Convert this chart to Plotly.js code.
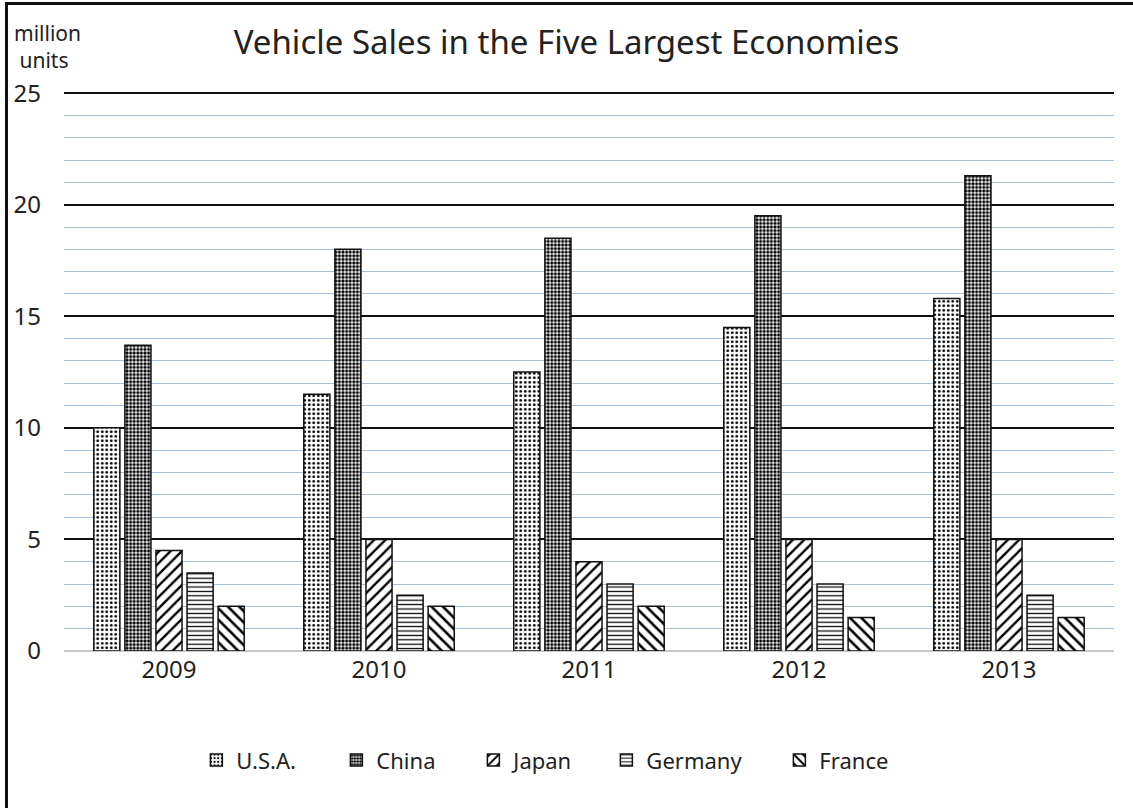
<!DOCTYPE html>
<html>
<head>
<meta charset="utf-8">
<script src="https://cdn.plot.ly/plotly-3.0.1.min.js"></script>
<style>
  html, body { margin: 0; padding: 0; background: #fff; }
  #wrap { position: relative; width: 1133px; height: 808px; overflow: hidden; }
  #chart { width: 1133px; height: 808px; }
  #frame { position: absolute; left: 5px; top: 2px; width: 1200px; height: 900px;
           border-left: 3px solid #111; border-top: 3px solid #111; pointer-events: none; }
</style>
</head>
<body>
<div id="wrap">
  <div id="chart"></div>
  <div id="frame"></div>
</div>
<script>
const years = ['2009', '2010', '2011', '2012', '2013'];
const usa     = [10, 11.5, 12.5, 14.5, 15.8];
const china   = [13.7, 18, 18.5, 19.5, 21.3];
const japan   = [4.5, 5, 4, 5, 5];
const germany = [3.5, 2.5, 3, 3, 2.5];
const france  = [2, 2, 2, 1.5, 1.5];
const yTicks  = [0, 5, 10, 15, 20, 25];

const seriesNames = ['U.S.A.', 'China', 'Japan', 'Germany', 'France'];
const seriesData = [usa, china, japan, germany, france];
const patterns = [
  {shape: '.', size: 4.5, solidity: 0.3},
  {shape: '.', size: 3.6, solidity: 0.6},
  {shape: '/', size: 8, solidity: 0.3},
  {shape: '-', size: 4.4, solidity: 0.28},
  {shape: '\\', size: 8, solidity: 0.32}
];
const legendWidths = [95, 92, 88, 128, 65];

const traces = seriesNames.map((name, i) => ({
  type: 'bar',
  name: name,
  x: years,
  y: seriesData[i],
  legendwidth: legendWidths[i],
  marker: {
    color: '#ffffff',
    line: {color: '#111111', width: 1.5},
    pattern: Object.assign({fgcolor: '#000000', bgcolor: '#ffffff', fillmode: 'replace'}, patterns[i])
  },
  hoverinfo: 'x+y+name'
}));

const font = 'Noto Sans, Open Sans, DejaVu Sans, sans-serif';
const txt = '#222222';

const layout = {
  width: 1133,
  height: 808,
  paper_bgcolor: '#ffffff',
  plot_bgcolor: '#ffffff',
  margin: {l: 63.5, r: 18.5, t: 92, b: 157},
  barmode: 'group',
  bargap: 0.26,
  bargroupgap: 0.16,
  font: {family: font, color: txt},
  title: {
    text: 'Vehicle Sales in the Five Largest Economies',
    font: {size: 33, family: font, color: txt},
    x: 0.5, xref: 'container', xanchor: 'center',
    y: 1 - 42 / 808, yref: 'container', yanchor: 'middle'
  },
  xaxis: {
    type: 'category',
    showgrid: false,
    showline: false,
    ticks: '',
    tickfont: {size: 24, family: font, color: txt},
    ticklabelstandoff: 2
  },
  yaxis: {
    range: [0, 25.05],
    tickvals: yTicks,
    ticktext: yTicks.map(String),
    showgrid: true,
    gridcolor: '#111111',
    gridwidth: 2,
    zeroline: true,
    zerolinecolor: '#c8c8c8',
    zerolinewidth: 1.5,
    showline: false,
    ticks: '',
    tickfont: {size: 24, family: font, color: txt},
    ticklabelstandoff: 22,
    minor: {dtick: 1, showgrid: true, gridcolor: '#a8c2da', gridwidth: 1}
  },
  showlegend: true,
  legend: {
    orientation: 'h',
    x: (196 - 63.5) / 1051, xanchor: 'left',
    y: (651 - 760) / 558, yanchor: 'middle',
    font: {size: 22, family: font, color: txt},
    itemwidth: 30,
    traceorder: 'normal'
  },
  annotations: [
    {
      text: 'million<br> units',
      xref: 'paper', yref: 'paper',
      x: (11 - 63.5) / 1051, xanchor: 'left',
      y: (651 - 48) / 558, yanchor: 'middle',
      showarrow: false,
      align: 'left',
      font: {size: 21, family: font, color: txt}
    }
  ]
};

Plotly.newPlot('chart', traces, layout, {displayModeBar: false, staticPlot: true});
</script>
</body>
</html>
